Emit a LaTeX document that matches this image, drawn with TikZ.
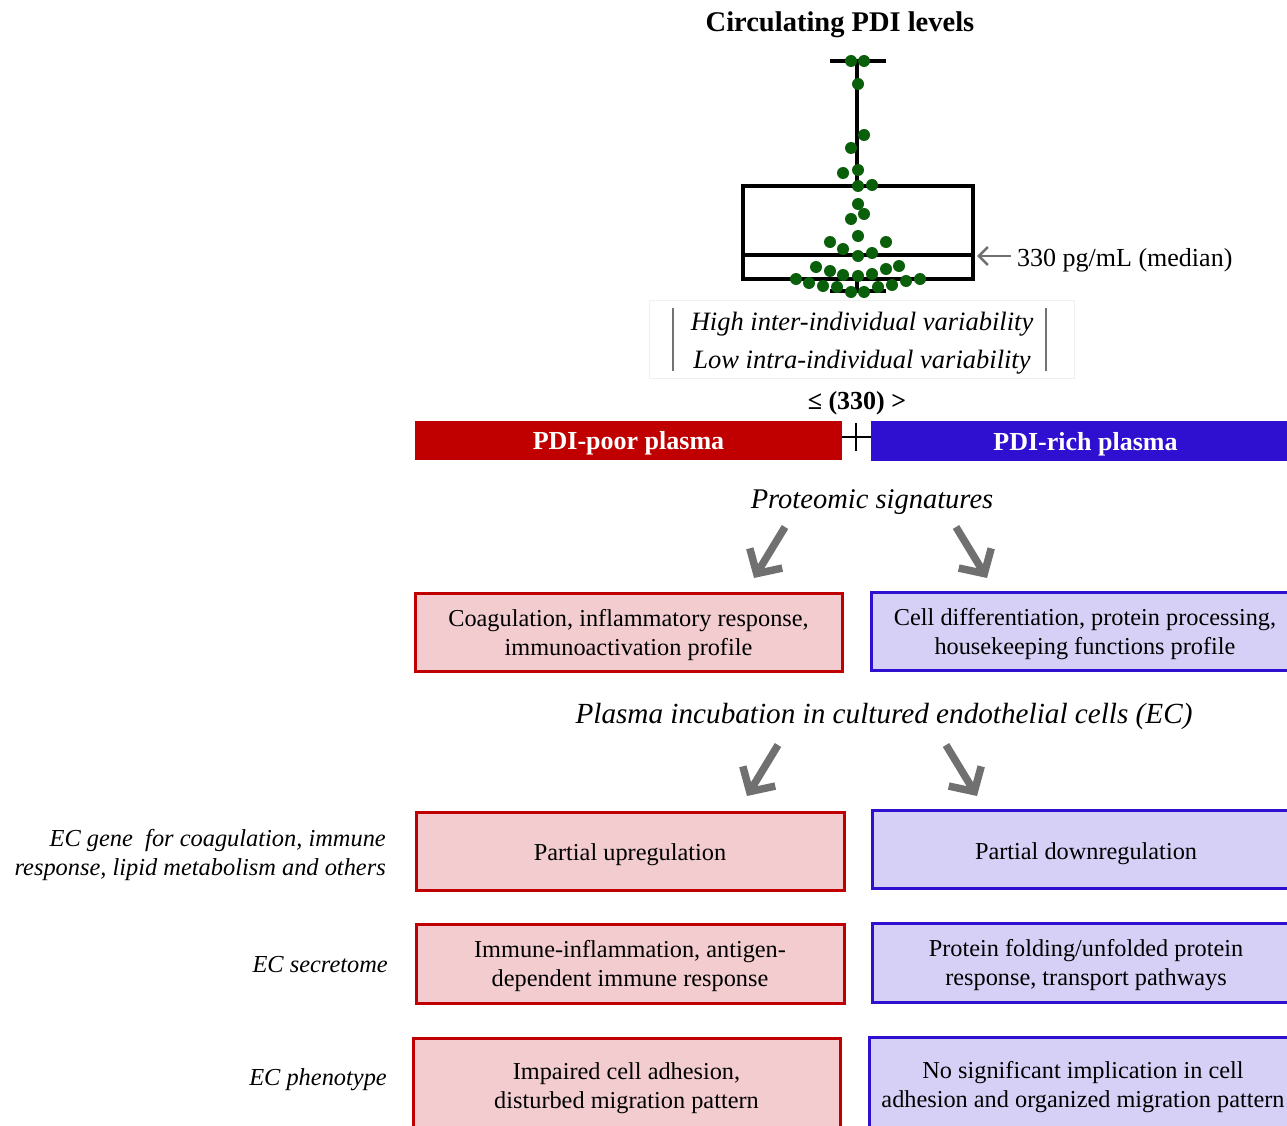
\documentclass[tikz,border=0pt]{standalone}
\usepackage{fontspec}
\setmainfont{Liberation Serif}
\usetikzlibrary{arrows.meta}
\definecolor{pdired}{RGB}{192,0,0}
\definecolor{pdiblue}{RGB}{48,16,208}
\definecolor{pinkfill}{RGB}{242,204,207}
\definecolor{lavfill}{RGB}{214,208,246}
\definecolor{dotgreen}{RGB}{10,95,10}
\definecolor{arrowgray}{RGB}{112,112,112}
\tikzset{
  redbox/.style={draw=pdired, fill=pinkfill, line width=3pt, minimum width=427pt, minimum height=78pt, inner sep=0pt},
  bluebox/.style={draw=pdiblue, fill=lavfill, line width=3pt, minimum width=428pt, minimum height=78pt, inner sep=0pt},
  boxtext/.style={align=center, inner sep=0pt, font=\fontsize{24.3}{29}\selectfont},
  barnode/.style={minimum width=427pt, minimum height=39pt, inner sep=0pt},
  bartext/.style={inner sep=0pt, text=white, font=\fontsize{26}{30}\selectfont\bfseries},
  bigarrow/.style={draw=arrowgray, line width=7.5pt, -{Straight Barb[length=18pt,width=38pt]}},
  heading/.style={font=\fontsize{28.5}{32}\selectfont\itshape, inner sep=0pt, yshift=-3pt},
  sidelabel/.style={anchor=east, align=right, inner sep=0pt, font=\fontsize{24.4}{29}\selectfont\itshape, yshift=-2pt},
  plotline/.style={line width=4pt, draw=black},
  dot/.style={fill=dotgreen, draw=none}
}
\begin{document}
\begin{tikzpicture}[x=1pt,y=-1pt]
\useasboundingbox (0,0) rectangle (1287,1126);
\clip (0,0) rectangle (1287,1126);

% title
\node[font=\fontsize{28.5}{32}\selectfont\bfseries, inner sep=0pt, yshift=-3pt] (title) at (840,22) {Circulating PDI levels};

% box plot
\draw[plotline] (857,61) -- (857,186);
\draw[plotline] (830,61) -- (886,61);
\draw[plotline] (857,279) -- (857,291);
\draw[plotline] (830,291) -- (886,291);
\draw[plotline] (743,186) rectangle (973,279);
\draw[plotline] (743,255) -- (973,255);
\foreach \x/\y in {851/61,864/61,858/84,864/135,851/148,843/173,858/170,858/186,872/185,858/204,864/214,851/219,858/236,830/242,886/242,843/249,872/253,858/256,816/267,830/271,886/269,899/266,843/275,858/276,872/274,796/279,809/283,823/286,837/287,851/292,864/292,878/287,892/285,906/281,920/279}
  \fill[dot] (\x,\y) circle (6pt);

% median label
\node[anchor=west, inner sep=0pt, font=\fontsize{26}{30}\selectfont, yshift=-4pt] (med) at (1017,256) {330 pg/mL (median)};
\coordinate (medpt) at (977,256);
\coordinate (medtail) at (1011,256);
\draw[draw=arrowgray, line width=2.5pt, -{Straight Barb[length=9pt,width=18pt]}] (medtail) -- (medpt);

% variability
\node[draw=black!6, line width=1pt, minimum width=425pt, minimum height=78pt, inner sep=0pt] (var) at (862,339) {};
\node[align=center, inner sep=0pt, font=\fontsize{26.5}{38}\selectfont\itshape] (vart) at ([yshift=-4pt]var.center) {High inter-individual variability\\Low intra-individual variability};
\draw[draw=black!55, line width=2pt] (673,308) -- (673,371);
\draw[draw=black!55, line width=2pt] (1046,308) -- (1046,371);

% threshold
\node[font=\fontsize{26}{30}\selectfont\bfseries, inner sep=0pt, yshift=-3pt] (thr) at (857,400) {≤ (330) >};

% bars
\node[barnode, fill=pdired] (poor) at (628.5,440.5) {};
\node[bartext] (poort) at ([yshift=-3pt]poor.center) {PDI-poor plasma};
\node[barnode, fill=pdiblue, minimum width=429pt, minimum height=40pt] (rich) at (1085.5,441) {};
\node[bartext] (richt) at ([yshift=-3pt]rich.center) {PDI-rich plasma};
\draw[line width=2.5pt] (poor.east |- 0,437) -- (rich.west |- 0,437);
\coordinate (plustop) at (856,423);
\coordinate (plusbot) at (856,451);
\draw[line width=2.5pt] (plustop) -- (plusbot);

% proteomic signatures
\node[heading] (prot) at (872,499) {Proteomic signatures};
\coordinate (a1s) at (785,527);
\coordinate (a1e) at (754,578);
\coordinate (a2s) at (956,527);
\coordinate (a2e) at (987,578);
\draw[bigarrow] (a1s) -- (a1e);
\draw[bigarrow] (a2s) -- (a2e);

% row 1
\node[redbox] (r1) at (628.5,632) {};
\node[boxtext] (r1t) at ([yshift=-3pt]r1.center) {Coagulation, inflammatory response,\\immunoactivation profile};
\node[bluebox] (b1) at (1085,631) {};
\node[boxtext] (b1t) at ([yshift=-3pt]b1.center) {Cell differentiation, protein processing,\\housekeeping functions profile};

% plasma incubation
\node[heading, font=\fontsize{29.2}{33}\selectfont\itshape] (inc) at (884,713) {Plasma incubation in cultured endothelial cells (EC)};
\coordinate (a3s) at (778,745);
\coordinate (a3e) at (747,796);
\coordinate (a4s) at (946,745);
\coordinate (a4e) at (977,796);
\draw[bigarrow] (a3s) -- (a3e);
\draw[bigarrow] (a4s) -- (a4e);

% row 2
\node[redbox, minimum width=428pt] (r2) at (630,851) {};
\node[boxtext] (r2t) at ([yshift=-4pt]r2.center) {Partial upregulation};
\node[bluebox] (b2) at (1086,849.5) {};
\node[boxtext] (b2t) at ([yshift=-4pt]b2.center) {Partial downregulation};
% row 3
\node[redbox, minimum width=428pt, minimum height=79pt] (r3) at (630,963.5) {};
\node[boxtext] (r3t) at ([yshift=-3pt]r3.center) {Immune-inflammation, antigen-\\dependent immune response};
\node[bluebox, minimum height=79pt] (b3) at (1086,962.5) {};
\node[boxtext] (b3t) at ([yshift=-3pt]b3.center) {Protein folding/unfolded protein\\response, transport pathways};
% row 4
\node[redbox, minimum height=96pt] (r4) at (626.5,1086) {};
\node[boxtext] (r4t) at ([yshift=-2pt]r4.center) {Impaired cell adhesion,\\disturbed migration pattern};
\node[bluebox, minimum height=96pt] (b4) at (1083,1085.5) {};
\node[boxtext] (b4t) at ([yshift=-2pt]b4.center) {No significant implication in cell\\adhesion and organized migration pattern};

% side labels
\node[sidelabel, yshift=-1pt] (l1) at (386,852) {EC gene\ \ for coagulation, immune\\response, lipid metabolism and others};
\node[sidelabel] (l2) at (388,963) {EC secretome};
\node[sidelabel] (l3) at (387,1078) {EC phenotype};
\end{tikzpicture}
\end{document}
